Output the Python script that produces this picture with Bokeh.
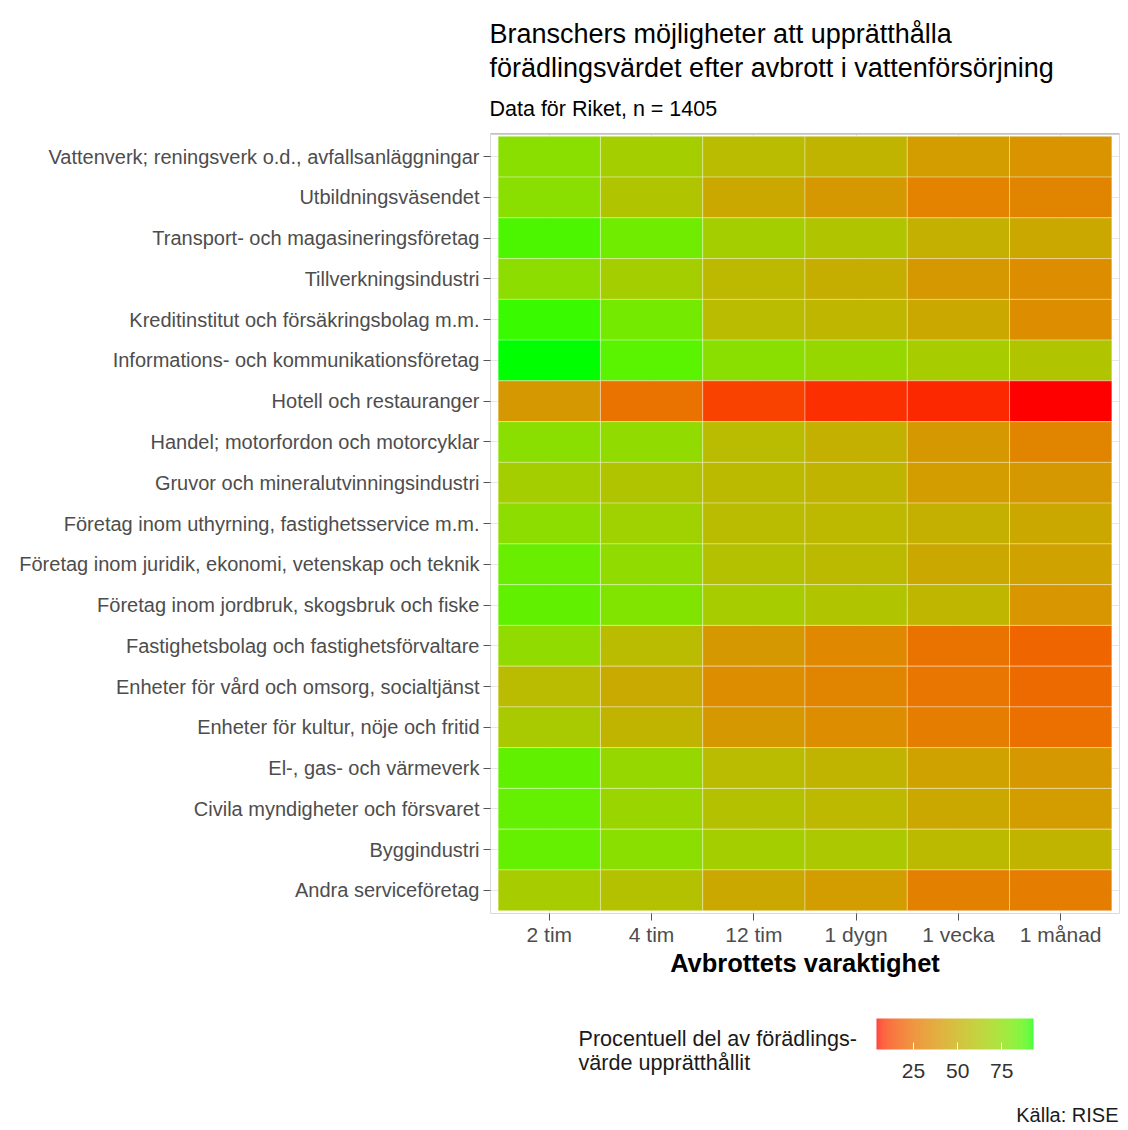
import numpy as np
from bokeh.plotting import figure
from bokeh.layouts import column
from bokeh.models import (ColumnDataSource, FactorRange, LinearColorMapper, ColorBar,
                          FixedTicker, Title, Span, Label, Range1d)
from bokeh.transform import transform
from bokeh.embed import file_html
from bokeh.resources import INLINE

# ---------------- data ----------------
industries = [
    "Vattenverk; reningsverk o.d., avfallsanläggningar",
    "Utbildningsväsendet",
    "Transport- och magasineringsföretag",
    "Tillverkningsindustri",
    "Kreditinstitut och försäkringsbolag m.m.",
    "Informations- och kommunikationsföretag",
    "Hotell och restauranger",
    "Handel; motorfordon och motorcyklar",
    "Gruvor och mineralutvinningsindustri",
    "Företag inom uthyrning, fastighetsservice m.m.",
    "Företag inom juridik, ekonomi, vetenskap och teknik",
    "Företag inom jordbruk, skogsbruk och fiske",
    "Fastighetsbolag och fastighetsförvaltare",
    "Enheter för vård och omsorg, socialtjänst",
    "Enheter för kultur, nöje och fritid",
    "El-, gas- och värmeverk",
    "Civila myndigheter och försvaret",
    "Byggindustri",
    "Andra serviceföretag",
]
durations = ["2 tim", "4 tim", "12 tim", "1 dygn", "1 vecka", "1 månad"]

vattenverk = [75, 66, 57, 53, 42, 38]
utbildning = [75, 61, 47, 40, 31, 32]
transport = [88, 82, 66, 61, 51, 47]
tillverkning = [74, 66, 55, 50, 40, 35]
kredit = [90, 81, 57, 54, 47, 35]
informations = [93, 86, 75, 71, 65, 61]
hotell = [40, 25, 11, 8, 7, 4]
handel = [75, 73, 57, 51, 40, 32]
gruvor = [66, 61, 56, 53, 42, 40]
uthyrning = [74, 68, 57, 55, 51, 47]
juridik = [83, 73, 59, 56, 47, 44]
jordbruk = [85, 78, 65, 61, 54, 39]
fastighetsbolag = [73, 57, 40, 33, 25, 21]
vard = [57, 48, 35, 32, 26, 22]
kultur = [64, 53, 40, 35, 29, 24]
el = [85, 71, 57, 53, 44, 40]
civila = [84, 70, 59, 55, 47, 42]
bygg = [84, 75, 66, 63, 56, 53]
andra = [65, 59, 47, 42, 30, 29]

rows = [vattenverk, utbildning, transport, tillverkning, kredit, informations, hotell,
        handel, gruvor, uthyrning, juridik, jordbruk, fastighetsbolag, vard, kultur,
        el, civila, bygg, andra]

legend_ticks = [25, 50, 75]
value_low, value_high = 4, 93

title_1 = "Branschers möjligheter att upprätthålla"
title_2 = "förädlingsvärdet efter avbrott i vattenförsörjning"
subtitle = "Data för Riket, n = 1405"
x_title = "Avbrottets varaktighet"
legend_title_1 = "Procentuell del av förädlings-"
legend_title_2 = "värde upprätthållit"
caption = "Källa: RISE"

# ---------------- red -> green palette interpolated in CIE Lab ----------------
M = np.array([[0.4124, 0.3576, 0.1805], [0.2126, 0.7152, 0.0722], [0.0193, 0.1192, 0.9505]])
Minv = np.linalg.inv(M)
WHITE = M @ np.ones(3)
D = 6 / 29


def _lin(c):
    c = np.asarray(c, float) / 255
    return np.where(c <= 0.04045, c / 12.92, ((c + 0.055) / 1.055) ** 2.4)


def _gam(c):
    c = np.clip(c, 0, 1)
    return np.where(c <= 0.0031308, 12.92 * c, 1.055 * np.power(c, 1 / 2.4) - 0.055)


def _f(t):
    return np.where(t > D ** 3, np.cbrt(t), t / (3 * D * D) + 4 / 29)


def _finv(t):
    return np.where(t > D, t ** 3, 3 * D * D * (t - 4 / 29))


def to_lab(rgb):
    fx, fy, fz = _f((M @ _lin(rgb)) / WHITE)
    return np.array([116 * fy - 16, 500 * (fx - fy), 200 * (fy - fz)])


def from_lab(lab):
    L, a, b = lab
    fy = (L + 16) / 116
    fx = fy + a / 500
    fz = fy - b / 200
    xyz = np.array([_finv(fx), _finv(fy), _finv(fz)]) * WHITE
    rgb = _gam(Minv @ xyz)
    return "#%02x%02x%02x" % tuple(int(round(float(v) * 255)) for v in rgb)


lab_lo, lab_hi = to_lab([255, 0, 0]), to_lab([0, 255, 0])
palette = [from_lab(lab_lo + (lab_hi - lab_lo) * t) for t in np.linspace(0, 1, 256)]

# ---------------- source ----------------
xs, ys, vals = [], [], []
for ind, row in zip(industries, rows):
    for dur, v in zip(durations, row):
        xs.append(dur)
        ys.append(ind)
        vals.append(v)
source = ColumnDataSource(dict(dur=xs, ind=ys, val=vals))

mapper = LinearColorMapper(palette=palette, low=value_low, high=value_high)

FONT = "Liberation Sans"
PADX = 0.075
PADY = 0.07
W = 1126

# ---------------- main heatmap ----------------
p = figure(
    width=W, height=991,
    x_range=FactorRange(*durations, range_padding=PADX, range_padding_units="absolute"),
    y_range=FactorRange(*reversed(industries), range_padding=PADY, range_padding_units="absolute"),
    output_backend="svg", toolbar_location=None,
    min_border_left=490, min_border_right=7, min_border_top=133, min_border_bottom=78,
)
p.background_fill_color = "white"
p.border_fill_color = "white"
p.outline_line_color = "#DADADA"
p.outline_line_width = 1

p.rect(x="dur", y="ind", width=1, height=1, source=source,
       fill_color=transform("val", mapper),
       line_color="white", line_alpha=0.35, line_width=1)

p.add_layout(Span(location=len(industries) + PADY, dimension="width",
                  line_color="#A8A8A8", line_width=2))

p.xgrid.grid_line_color = "#E6E6E6"
p.ygrid.grid_line_color = "#E6E6E6"

for ax in (p.xaxis[0], p.yaxis[0]):
    ax.axis_line_color = None
    ax.major_tick_line_color = "#555555"
    ax.major_tick_in = 0
    ax.major_tick_out = 7
    ax.major_label_text_font = FONT
    ax.major_label_text_color = "#4D4D4D"
p.yaxis.major_label_text_font_size = "20px"
p.xaxis.major_label_text_font_size = "21px"
p.yaxis.major_label_standoff = 4
p.xaxis.major_label_standoff = 2
p.xaxis.axis_label = x_title
p.xaxis.axis_label_text_font = FONT
p.xaxis.axis_label_text_font_size = "25.5px"
p.xaxis.axis_label_text_font_style = "bold"
p.xaxis.axis_label_text_color = "black"
p.xaxis.axis_label_standoff = 0

# titles above (first added = closest to the plot)
p.add_layout(Title(text=subtitle, text_font=FONT, text_font_size="21.5px",
                   text_font_style="normal", text_color="black", align="left",
                   offset=-1, standoff=25), "above")
p.add_layout(Title(text=title_2, text_font=FONT, text_font_size="27px",
                   text_font_style="normal", text_color="black", align="left",
                   offset=-1, standoff=0), "above")
p.add_layout(Title(text=title_1, text_font=FONT, text_font_size="27px",
                   text_font_style="normal", text_color="black", align="left",
                   offset=-1, standoff=4), "above")

# ---------------- legend strip below (its frame is aligned with the heatmap's) ----------------
LH = 137
lf = figure(width=W, height=LH, x_range=Range1d(0, 1), y_range=Range1d(0, 1),
            x_axis_type=None, y_axis_type=None, output_backend="svg",
            toolbar_location=None, min_border=0)
lf.outline_line_color = None
lf.background_fill_color = "white"
lf.border_fill_color = "white"
lf.xgrid.visible = False
lf.ygrid.visible = False


def lab(text, x, y, size, align="left"):
    lf.add_layout(Label(x=x, y=y, x_units="screen", y_units="screen", text=text,
                        text_font=FONT, text_font_size=size, text_color="#1A1A1A",
                        text_align=align, text_baseline="middle"))


lab(legend_title_1, 88, 90, "21.6px")
lab(legend_title_2, 88, 66, "21.6px")
lab(caption, 628, 14, "20px", align="right")

color_bar = ColorBar(
    color_mapper=mapper, orientation="horizontal", width=157, height=31,
    location=(386, 48), ticker=FixedTicker(ticks=legend_ticks),
    major_label_text_font=FONT, major_label_text_font_size="21px",
    major_label_text_color="#333333",
    major_tick_line_color="white", major_tick_in=7, major_tick_out=0,
    minor_tick_line_color=None, bar_line_color=None, border_line_color=None,
    background_fill_alpha=0, padding=0, scale_alpha=0.75, label_standoff=14,
)
lf.add_layout(color_bar, "center")

layout = column(p, lf, spacing=0)
open("out.html", "w").write(file_html(layout, INLINE))
